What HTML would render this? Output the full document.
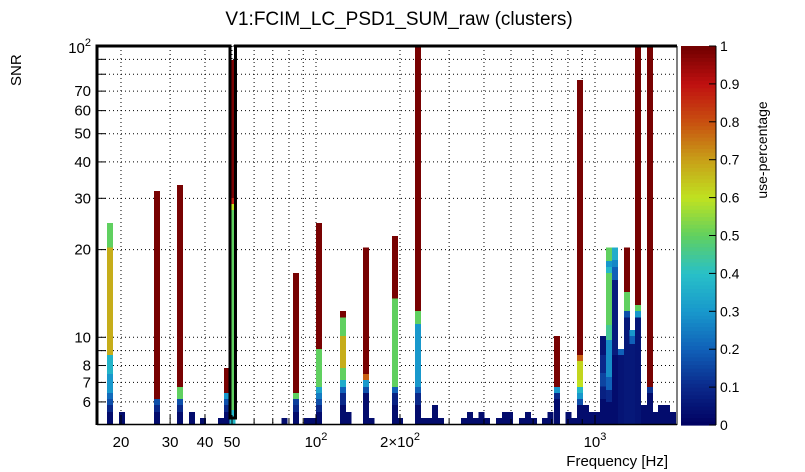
<!DOCTYPE html>
<html><head><meta charset="utf-8"><style>
html,body{margin:0;padding:0;background:#fff;}
svg{display:block;font-family:"Liberation Sans",Arial,sans-serif;}
</style></head><body>
<svg id="chart" width="805" height="472" viewBox="0 0 805 472" xmlns="http://www.w3.org/2000/svg">
<text x="399" y="25" font-size="19" text-anchor="middle">V1:FCIM_LC_PSD1_SUM_raw (clusters)</text>
<text transform="translate(21,86) rotate(-90)" font-size="15" text-anchor="start">SNR</text>
<text x="668" y="466" font-size="15" text-anchor="end">Frequency [Hz]</text>
<text transform="translate(767,150) rotate(-90)" font-size="14" text-anchor="middle">use-percentage</text>
<g id="grid"></g>
<g id="bars" shape-rendering="crispEdges"></g>
<g id="axes"></g>
<g id="cbar"></g>
</svg>
<script>
const binCenters=[18.3,20.2,26.9,32.6,35.9,39.4,45.6,48.0,50.2,77.1,84.8,92.8,97.5,102.5,125,130.8,151,158,192,200,232,242,254,267,281,339,356,374,392,410,453,476,496,547,575,604,662,692,731,804,841,884,929,975,1021,1069,1122,1180,1239,1302,1362,1426,1500,1574,1648,1725,1811,1905];
const segTops=[
[5.54,5.86,6.14,6.44,7.48,8.70,20.3,24.7],[5.54],[5.54,5.86,6.14,31.8],[5.54,5.86,6.14,6.75,33.3],[5.54],[5.28],[5.28],
[5.54,5.86,6.14,6.44,7.85],[5.63,27.4,28.7,30.1,89.5],[5.28],[5.54,5.86,6.14,6.44,16.6],[5.28],[5.28],
[5.54,5.86,6.14,6.44,6.75,9.12,24.7],[5.86,6.44,6.75,7.13,7.85,10.1,11.7,12.3],[5.54],[6.44,6.75,7.13,7.48,20.3],[5.28],
[5.86,6.44,6.75,13.6,22.3],[5.28],[5.86,6.44,6.75,11.1,12.3,100],[5.28],[5.28],[5.86],[5.28],
[5.28],[5.54],[5.28],[5.54],[5.28],[5.28],[5.54],[5.54],[5.28],[5.54],[5.28],[5.28],[5.54],
[6.14,6.44,6.75,10.1],[5.54],[5.28],[5.86,6.14,6.44,6.75,7.13,8.29,8.70,76.4],[5.86],[5.54],[5.54],
[6.14,6.79,7.54,8.70,10.1],[6.0,6.6,7.3,9.79,11.0,16.6,17.4,18.3,20.3],[8.70,15.7,17.4,18.4,20.3],[8.70,9.12],
[11.7,12.3,14.3,20.3],[9.5,10.1,10.6],[11.7,12.3,12.9,100],[5.86],[6.44,6.75,100],[5.54],[5.86],[5.86],[5.54]];
const segUse=[
[0.03,0.1,0.17,0.22,0.3,0.37,0.68,0.5],[0.03],[0.03,0.1,0.17,0.99],[0.03,0.1,0.17,0.5,0.99],[0.03],[0.03],[0.03],
[0.03,0.1,0.17,0.3,0.99],[0.38,0.5,0.6,0.88,0.99],[0.03],[0.03,0.1,0.14,0.5,0.99],[0.03],[0.03],
[0.03,0.1,0.17,0.25,0.33,0.5,0.99],[0.03,0.1,0.2,0.35,0.5,0.68,0.5,0.99],[0.03],[0.03,0.17,0.3,0.78,0.99],[0.03],
[0.03,0.08,0.2,0.5,0.99],[0.03],[0.03,0.1,0.2,0.3,0.5,0.99],[0.03],[0.03],[0.03],[0.03],
[0.03],[0.03],[0.03],[0.03],[0.03],[0.03],[0.03],[0.03],[0.03],[0.03],[0.03],[0.03],[0.03],
[0.03,0.1,0.3,0.99],[0.03],[0.03],[0.03,0.17,0.3,0.38,0.6,0.62,0.78,0.99],[0.03],[0.03],[0.03],
[0.03,0.08,0.15,0.1,0.05],[0.03,0.1,0.2,0.28,0.45,0.5,0.38,0.3,0.5],[0.03,0.07,0.2,0.27,0.35],[0.05,0.2],
[0.06,0.17,0.5,0.99],[0.06,0.2,0.3],[0.05,0.3,0.5,0.99],[0.03],[0.03,0.12,0.99],[0.03],[0.03],[0.03],[0.03]];
const yTickVals=[6,7,8,9,10,20,30,40,50,60,70,80,90,100];
const yTickLabels={6:"6",7:"7",8:"8",10:"10",20:"20",30:"30",40:"40",50:"50",60:"60",70:"70"};
const xTickVals=[20,30,40,50,60,70,80,90,100,200,300,400,500,600,700,800,900,1000];
const xTickLabels={20:"20",30:"30",40:"40",50:"50"};
const cbTicks=[0,0.1,0.2,0.3,0.4,0.5,0.6,0.7,0.8,0.9,1];
const cbLabels=["0","0.1","0.2","0.3","0.4","0.5","0.6","0.7","0.8","0.9","1"];

const NS="http://www.w3.org/2000/svg";
const L=97,R=677,T=46,B=425;
function xs(f){return 316+279*Math.log10(f/100);}
function ys(v){return T+(2-Math.log10(v))*291.3;}
const stops=[[0,[0,0,96]],[0.1,[10,40,138]],[0.2,[16,96,184]],[0.3,[24,152,204]],[0.4,[40,192,200]],[0.5,[96,208,96]],[0.6,[192,226,32]],[0.7,[200,160,24]],[0.8,[200,80,16]],[0.9,[192,16,16]],[1,[112,0,0]]];
function col(u){u=Math.max(0,Math.min(1,u));for(let i=1;i<stops.length;i++){if(u<=stops[i][0]){const a=stops[i-1],b=stops[i],t=(u-a[0])/(b[0]-a[0]);const c=a[1].map((v,k)=>Math.round(v+(b[1][k]-v)*t));return `rgb(${c[0]},${c[1]},${c[2]})`;}}return 'rgb(112,0,0)';}
function mk(tag,attrs,parent){const e=document.createElementNS(NS,tag);for(const k in attrs)e.setAttribute(k,attrs[k]);parent.appendChild(e);return e;}
const grid=document.getElementById('grid'),bars=document.getElementById('bars'),axes=document.getElementById('axes'),cbar=document.getElementById('cbar');

yTickVals.forEach(v=>{const y=ys(v);const g=mk('line',{x1:L,x2:R,y1:y,y2:y,stroke:'#000','stroke-width':1,'stroke-dasharray':'1,3'},grid);

});
xTickVals.forEach(v=>{const x=xs(v);const g=mk('line',{x1:x,x2:x,y1:T,y2:B,stroke:'#000','stroke-width':1,'stroke-dasharray':'1,3'},grid);

});

const hw=0.01075;
binCenters.forEach((f,i)=>{const x0=xs(f*Math.pow(10,-hw)),x1=xs(f*Math.pow(10,hw));let lo=5;
segTops[i].forEach((top,j)=>{const y0=ys(Math.min(top,100)),y1=ys(lo);
const r=mk('rect',{x:x0,y:y0,width:x1-x0,height:Math.max(0,y1-y0),fill:col(segUse[i][j])},bars);


lo=top;});});

const fr=mk('path',{d:`M${L},${B} L${L},${T} L230,${T} L230,418 L235.5,418 L235.5,${T} L${R},${T}`,fill:'none',stroke:'#000','stroke-width':3},axes);


const xa=mk('line',{x1:L,x2:R,y1:B-0.5,y2:B-0.5,stroke:'#000','stroke-width':1.5},axes);


const ra=mk('line',{x1:R,x2:R,y1:T,y2:B,stroke:'#000','stroke-width':1},axes);


yTickVals.forEach(v=>{const y=ys(v);const t=mk('line',{x1:L,x2:L+9,y1:y,y2:y,stroke:'#000','stroke-width':1},axes);


if(yTickLabels[v]){const tx=mk('text',{x:91,y:y+5,'font-size':15,'text-anchor':'end'},axes);tx.textContent=yTickLabels[v];

}});
const yl=mk('text',{x:91,y:53,'font-size':15,'text-anchor':'end'},axes);


yl.innerHTML='10<tspan dy="-7" font-size="11">2</tspan>';
xTickVals.forEach(v=>{const x=xs(v);const big=[20,30,40,50,100,200,1000].includes(v);const t=mk('line',{x1:x,x2:x,y1:B,y2:B-(big?10:6),stroke:'#000','stroke-width':1},axes);


if(xTickLabels[v]){const tx=mk('text',{x:x,y:447,'font-size':15,'text-anchor':'middle'},axes);tx.textContent=xTickLabels[v];

}});
[[100,'10<tspan dy="-7" font-size="11">2</tspan>'],[200,'2×10<tspan dy="-7" font-size="11">2</tspan>'],[1000,'10<tspan dy="-7" font-size="11">3</tspan>']].forEach(p=>{const tx=mk('text',{x:xs(p[0]),y:447,'font-size':15,'text-anchor':'middle'},axes);tx.innerHTML=p[1];

});

const CL=681,CR=716;
for(let k=0;k<100;k++){const u=(k+0.5)/100;const y1=B-(B-T)*k/100,y0=B-(B-T)*(k+1)/100;
const r=mk('rect',{x:CL,y:y0,width:CR-CL,height:y1-y0+0.6,fill:col(u)},cbar);

}
const ca=mk('line',{x1:CR,x2:CR,y1:T,y2:B,stroke:'#000','stroke-width':1},cbar);


cbTicks.forEach((v,i)=>{const y=B-(B-T)*v;const t=mk('line',{x1:CR-7,x2:CR,y1:y,y2:y,stroke:'#000','stroke-width':1},cbar);


const tx=mk('text',{x:720,y:y+5,'font-size':14},cbar);tx.textContent=cbLabels[i];

});
</script>
</body></html>
